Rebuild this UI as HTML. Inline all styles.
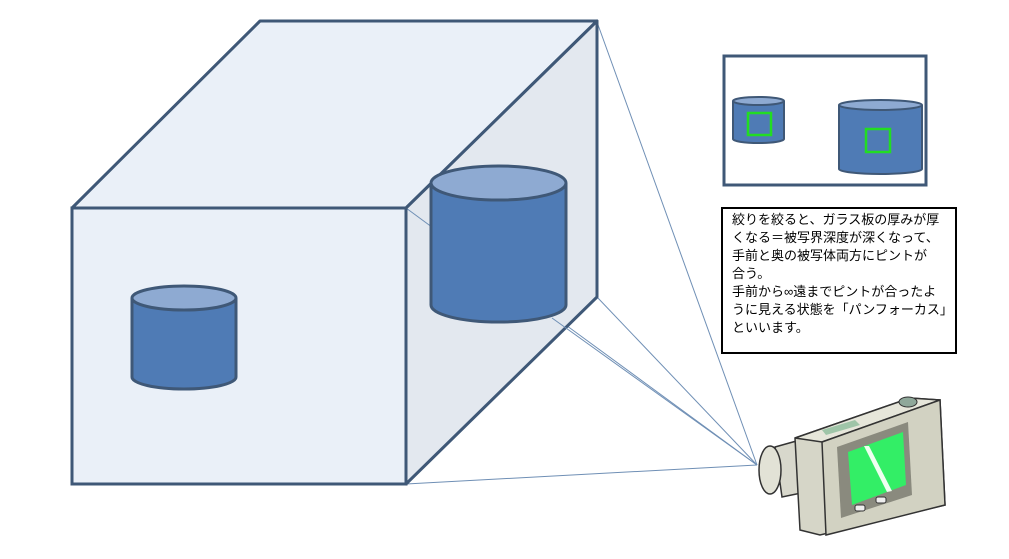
<!DOCTYPE html>
<html><head><meta charset="utf-8"><style>
html,body{margin:0;padding:0;background:#fff;}
.t{position:absolute;left:721px;top:207px;width:231px;height:142px;border:2px solid #000;background:#fff;font-family:"Liberation Sans","Noto Sans CJK JP",sans-serif;font-size:13px;line-height:18px;padding:2px 0 0 9px;box-sizing:border-box;width:236px;height:147px;color:#000;white-space:nowrap}
</style></head><body>
<div style="position:relative;width:1009px;height:559px;overflow:hidden">
<svg width="1009" height="559" style="position:absolute;left:0;top:0">
<g stroke="#6f8fb5" stroke-width="1" fill="none">
<line x1="597" y1="22" x2="757" y2="465"/>
<line x1="597" y1="297" x2="757" y2="465"/>
<line x1="406" y1="484" x2="757" y2="465"/>
<line x1="406" y1="208" x2="757" y2="465"/>
</g>
<!-- top face -->
<polygon points="72,208 260,21 597,21 406,208" fill="#eaf0f8" stroke="#3f5877" stroke-width="3" stroke-linejoin="round"/>
<!-- right face -->
<polygon points="406,208 597,21 597,297 406,484" fill="#e3e8ef" stroke="#3f5877" stroke-width="3" stroke-linejoin="round"/>
<line x1="406" y1="208" x2="440" y2="233" stroke="#6f8fb5"/>
<!-- back cylinder -->
<path d="M431,183 L431,305 A67.5,17 0 0 0 566,305 L566,183" fill="#4f7bb5" stroke="#3f5877" stroke-width="3"/>
<ellipse cx="498.5" cy="183" rx="67.5" ry="17" fill="#8eaad2" stroke="#3f5877" stroke-width="3"/>
<line x1="552" y1="318" x2="757" y2="465" stroke="#6f8fb5"/>
<!-- front face -->
<rect x="72" y="208" width="334" height="276" fill="#eaf0f8" stroke="#3f5877" stroke-width="3"/>
<!-- front cylinder -->
<path d="M132,298 L132,377 A52,12 0 0 0 236,377 L236,298" fill="#4f7bb5" stroke="#3f5877" stroke-width="3"/>
<ellipse cx="184" cy="298" rx="52" ry="12" fill="#8eaad2" stroke="#3f5877" stroke-width="3"/>
<!-- inset -->
<rect x="724" y="56" width="202" height="129" fill="#fff" stroke="#3f5877" stroke-width="3"/>
<path d="M733,101 L733,139 A25.5,4 0 0 0 784,139 L784,101" fill="#4f7bb5" stroke="#3f5877" stroke-width="2"/>
<ellipse cx="758.5" cy="101" rx="25.5" ry="4" fill="#8eaad2" stroke="#3f5877" stroke-width="2"/>
<rect x="748" y="113" width="23" height="22" fill="none" stroke="#22dd22" stroke-width="2.5"/>
<path d="M839,105 L839,169 A41.5,5 0 0 0 922,169 L922,105" fill="#4f7bb5" stroke="#3f5877" stroke-width="2"/>
<ellipse cx="880.5" cy="105" rx="41.5" ry="5" fill="#8eaad2" stroke="#3f5877" stroke-width="2"/>
<rect x="866" y="129" width="24" height="23" fill="none" stroke="#22dd22" stroke-width="2.5"/>
<!-- camera -->
<g stroke="#333" stroke-width="1.5">
<path d="M775,447 L800,440 L806,492 L782,497 Z" fill="#d8d8cc"/>
<ellipse cx="770" cy="470" rx="11" ry="24" fill="#e2e2d6"/>
<path d="M795,438 L910,398 L940,400 L945,505 L820,535 L800,530 Z" fill="#d6d6c8"/>
<path d="M795,438 L910,398 L940,400 L822,442 Z" fill="#e6e6da"/>
<path d="M822,442 L940,400 L945,505 L826,535 Z" fill="#d2d2c2"/>
</g>
<polygon points="837,447 908,422 912,495 841,518" fill="#8a8a7e"/>
<polygon points="848,452 903,432 906,485 852,505" fill="#33ee66"/>
<polygon points="864,446 869,446 892,491 887,492" fill="#eefff0"/>
<ellipse cx="908" cy="402" rx="9" ry="5" fill="#8fa89a" stroke="#333"/>
<rect x="855" y="505" width="10" height="6" rx="2" fill="#eee" stroke="#333"/>
<rect x="876" y="497" width="10" height="6" rx="2" fill="#eee" stroke="#333"/>
<polygon points="822,430 855,420 860,425 826,435" fill="#9fc5a8"/>
</svg>
<div class="t">絞りを絞ると、ガラス板の厚みが厚<br>くなる＝被写界深度が深くなって、<br>手前と奥の被写体両方にピントが<br>合う。<br>手前から∞遠までピントが合ったよ<br>うに見える状態を「パンフォーカス」<br>といいます。</div>
</div>
</body></html>
